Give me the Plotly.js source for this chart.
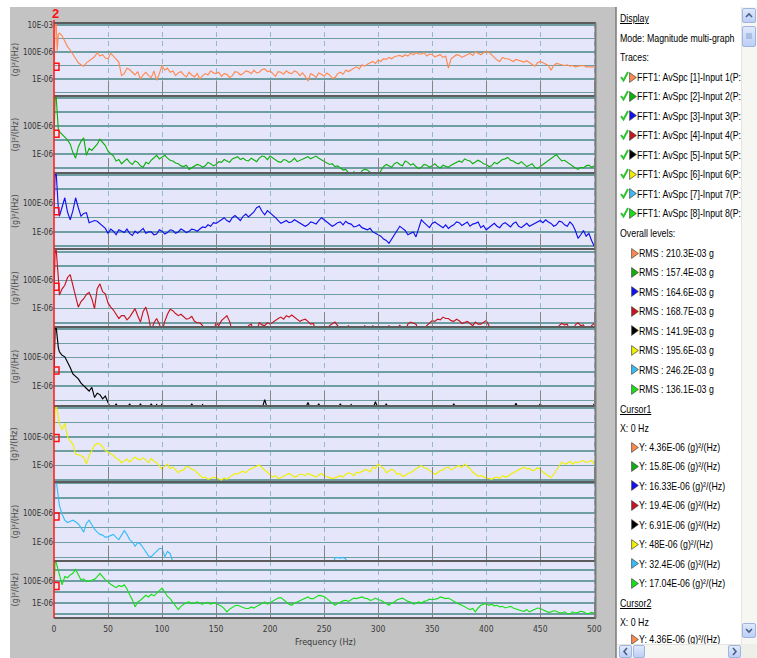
<!DOCTYPE html>
<html><head><meta charset="utf-8">
<script src="https://cdn.plot.ly/plotly-3.0.1.min.js"></script>
<style>
html,body{margin:0;padding:0;background:#fff;overflow:hidden;}
#wrap{position:relative;width:757px;height:658px;}
#chart{position:absolute;left:0;top:0;width:757px;height:658px;}
#panel{position:absolute;left:617px;top:0;width:124px;height:644px;overflow:hidden;
  font-family:"Liberation Sans",Arial,sans-serif;font-size:11px;color:#000;}
#panel .t{position:absolute;height:16px;line-height:16px;white-space:nowrap;transform:scaleX(0.8);transform-origin:0 50%;}
#panel svg{position:absolute;}
.sb{position:absolute;box-sizing:border-box;}
.btn{background:linear-gradient(#e0e9fc,#bccff5);border:1px solid #9fb4df;border-radius:2px;}
.sb svg{position:absolute;left:0;top:0;}
</style></head><body>
<div id="wrap"><div id="chart"></div>
<div id="panel"></div>
<div class="sb" style="left:741px;top:7px;width:16px;height:637px;background:#f6f6f2;border-left:1px solid #e6e6e0"></div>
<div class="sb btn" style="left:742px;top:8px;width:14px;height:15px;"><svg width="12" height="13"><polyline points="3,8 6,5 9,8" fill="none" stroke="#4a5f86" stroke-width="1.6"/></svg></div>
<div class="sb btn" style="left:742px;top:26px;width:14px;height:21px;"><svg width="12" height="19"><line x1="3" y1="7" x2="9" y2="7" stroke="#8aa0cc"/><line x1="3" y1="9" x2="9" y2="9" stroke="#8aa0cc"/><line x1="3" y1="11" x2="9" y2="11" stroke="#8aa0cc"/></svg></div>
<div class="sb btn" style="left:742px;top:623px;width:14px;height:15px;"><svg width="12" height="13"><polyline points="3,5 6,8 9,5" fill="none" stroke="#4a5f86" stroke-width="1.6"/></svg></div>
<div class="sb" style="left:617px;top:644px;width:124px;height:14px;background:#f6f6f2;border-top:1px solid #e6e6e0"></div>
<div class="sb btn" style="left:619px;top:645px;width:13px;height:13px;"><svg width="11" height="11"><polyline points="7,2 4,5.5 7,9" fill="none" stroke="#4a5f86" stroke-width="1.6"/></svg></div>
<div class="sb btn" style="left:633px;top:645px;width:12px;height:13px;"></div>
<div class="sb btn" style="left:728px;top:645px;width:13px;height:13px;"><svg width="11" height="11"><polyline points="4,2 7,5.5 4,9" fill="none" stroke="#4a5f86" stroke-width="1.6"/></svg></div>
<div class="sb" style="left:741px;top:644px;width:16px;height:14px;background:#efefe9"></div>
</div>
<script>
// ---------------- DATA ----------------
const freq = [0,1,2,3,4,5,7.5,10,12.5,15,17.5,20,22.5,25,27.5,30,32.5,35,37.5,40,42.5,45,47.5,50,
  52.5,55,57.5,60,62.5,65,67.5,70,72.5,75,77.5,80,82.5,85,87.5,90,92.5,95,97.5,100,
  102.5,105,107.5,110,112.5,115,117.5,120,122.5,125,127.5,130,132.5,135,137.5,140,142.5,145,147.5,150,
  152.5,155,157.5,160,162.5,165,167.5,170,172.5,175,177.5,180,182.5,185,187.5,190,192.5,195,197.5,200,
  202.5,205,207.5,210,212.5,215,217.5,220,222.5,225,227.5,230,232.5,235,237.5,240,242.5,245,247.5,250,
  252.5,255,257.5,260,262.5,265,267.5,270,272.5,275,277.5,280,282.5,285,287.5,290,292.5,295,297.5,300,
  302.5,305,307.5,310,312.5,315,317.5,320,322.5,325,327.5,330,332.5,335,337.5,340,342.5,345,347.5,350,
  352.5,355,357.5,360,362.5,365,367.5,370,372.5,375,377.5,380,382.5,385,387.5,390,392.5,395,397.5,400,
  402.5,405,407.5,410,412.5,415,417.5,420,422.5,425,427.5,430,432.5,435,437.5,440,442.5,445,447.5,450,
  452.5,455,457.5,460,462.5,465,467.5,470,472.5,475,477.5,480,482.5,485,487.5,490,492.5,495,497.5,500];

// values are log10 of the spectral density in (g)²/(Hz)
const avSpc1 = [-5.36,-2.0,-1.8,-3.9,-2.7,-2.6,-2.8,-3.2,-3.6,-3.85,-4.2,-4.5,-4.8,-4.95,-5.05,-4.8,-4.65,-4.5,-4.35,-4.05,-4.3,-4.2,-4.45,-4.5,
  -4.1,-4.3,-4.5,-4.75,-5.75,-5.6,-5.2,-5.3,-5.5,-5.7,-5.45,-6.0,-5.7,-5.5,-5.75,-5.9,-5.4,-6.1,-5.6,-5.0,
  -5.35,-5.2,-5.5,-5.4,-5.75,-5.55,-5.45,-5.7,-5.85,-5.5,-5.7,-5.85,-5.6,-6.0,-5.75,-5.6,-5.7,-5.4,-5.55,-5.6,
  -5.5,-5.8,-5.6,-5.65,-5.9,-5.75,-5.45,-5.5,-5.7,-5.6,-5.4,-5.45,-5.6,-5.35,-5.55,-5.5,-5.3,-5.25,-5.45,-5.4,
  -5.6,-5.8,-5.45,-5.5,-5.65,-5.4,-5.55,-5.6,-5.4,-5.5,-5.75,-5.55,-5.8,-6.15,-5.6,-5.7,-5.9,-5.55,-5.65,-5.8,
  -5.55,-5.7,-5.95,-5.9,-5.6,-5.5,-5.65,-5.35,-5.45,-5.3,-5.2,-5.1,-5.25,-4.95,-5.05,-4.9,-4.8,-4.7,-4.85,-4.6,
  -4.7,-4.5,-4.55,-4.4,-4.5,-4.35,-4.3,-4.25,-4.35,-4.2,-4.3,-4.1,-4.2,-4.05,-4.15,-4.15,-4.05,-4.3,-4.15,-4.2,
  -4.35,-4.3,-4.2,-4.4,-4.3,-5.2,-4.5,-4.35,-4.2,-4.25,-4.4,-4.3,-4.2,-4.1,-4.25,-4.0,-4.1,-4.2,-4.05,-3.95,
  -4.0,-4.2,-4.35,-4.6,-4.7,-4.4,-4.5,-4.5,-4.6,-4.7,-4.55,-4.6,-4.7,-4.75,-4.65,-4.8,-4.9,-5.05,-4.8,-4.7,
  -4.8,-4.9,-5.0,-5.35,-5.0,-4.85,-4.9,-4.9,-5.0,-4.95,-5.05,-5.0,-5.1,-5.05,-5.0,-5.0,-5.1,-5.1,-5.05,-5.1];
const avSpc2 = [-4.8,-2.1,-1.9,-3.0,-4.25,-4.4,-4.6,-4.8,-5.0,-5.3,-5.9,-6.3,-5.5,-5.1,-4.85,-6.1,-5.6,-5.75,-5.5,-5.3,-4.95,-5.2,-5.4,-5.8,
  -6.0,-6.15,-6.5,-6.4,-6.7,-6.55,-6.35,-6.6,-6.75,-6.5,-6.6,-6.85,-6.95,-6.6,-6.7,-6.45,-6.3,-6.1,-6.35,-6.2,
  -6.1,-6.3,-6.45,-6.5,-6.65,-6.7,-6.85,-6.9,-6.8,-7.1,-7.0,-6.9,-6.75,-6.8,-6.95,-6.85,-6.6,-6.7,-6.85,-6.75,
  -6.55,-6.6,-6.4,-6.5,-6.6,-6.35,-6.25,-6.2,-6.4,-6.3,-6.45,-6.5,-6.3,-6.4,-6.55,-6.3,-6.15,-6.2,-6.4,-6.15,
  -6.3,-6.4,-6.55,-6.6,-6.4,-6.45,-6.6,-6.5,-6.3,-6.55,-6.45,-6.35,-6.25,-6.2,-6.35,-6.25,-6.15,-6.3,-6.4,-6.5,
  -6.6,-6.75,-6.7,-6.9,-6.85,-7.0,-7.15,-7.1,-7.3,-7.6,-7.25,-7.6,-7.6,-7.2,-7.1,-7.15,-7.3,-7.6,-7.6,-7.6,
  -7.2,-6.9,-6.75,-6.85,-6.95,-6.7,-6.6,-6.75,-6.85,-6.5,-6.6,-6.8,-6.7,-6.9,-7.05,-6.95,-6.75,-6.8,-6.95,-6.85,
  -6.7,-6.9,-7.0,-6.8,-6.85,-6.95,-6.8,-6.7,-6.55,-6.5,-6.6,-6.35,-6.45,-6.5,-6.7,-6.6,-6.45,-6.55,-6.7,-6.75,
  -6.9,-6.85,-6.6,-6.7,-6.55,-6.4,-6.35,-6.25,-6.45,-6.5,-6.65,-6.7,-6.55,-6.75,-6.9,-6.8,-6.7,-6.95,-7.05,-6.9,
  -6.75,-6.6,-6.5,-6.3,-6.2,-6.05,-6.3,-6.5,-6.45,-6.6,-6.75,-6.9,-7.0,-7.1,-6.95,-7.0,-6.85,-6.8,-6.95,-6.85];
const avSpc3 = [-4.79,-1.9,-1.85,-3.2,-4.3,-4.9,-4.2,-3.6,-4.6,-5.15,-4.5,-3.6,-4.3,-4.9,-4.7,-4.65,-5.35,-5.3,-5.2,-5.25,-5.4,-5.55,-5.75,-6.1,
  -5.8,-5.95,-6.2,-5.85,-5.95,-6.05,-5.8,-6.1,-6.25,-5.95,-6.1,-5.9,-5.75,-6.1,-6.0,-6.0,-6.2,-6.15,-5.85,-5.95,
  -6.15,-6.05,-5.85,-5.9,-6.1,-6.0,-5.8,-5.9,-6.05,-5.95,-5.8,-5.85,-5.95,-5.8,-5.65,-5.7,-5.5,-5.6,-5.35,-5.4,
  -5.3,-5.15,-5.0,-5.2,-5.3,-5.0,-4.85,-5.05,-5.2,-4.9,-4.75,-4.95,-4.8,-4.6,-4.3,-4.2,-4.55,-4.8,-4.5,-4.65,
  -4.8,-5.0,-5.2,-5.4,-5.3,-5.2,-5.35,-5.3,-5.15,-5.25,-5.4,-5.45,-5.6,-5.5,-5.3,-5.35,-5.45,-5.2,-5.0,-5.15,
  -5.3,-5.4,-5.6,-5.5,-5.35,-5.3,-5.5,-5.25,-5.4,-5.45,-5.65,-5.6,-5.5,-5.7,-5.8,-5.85,-5.75,-6.0,-6.1,-6.2,
  -6.3,-6.5,-6.6,-6.8,-6.5,-6.2,-5.9,-5.6,-5.75,-5.9,-6.2,-6.1,-6.0,-6.35,-5.8,-5.15,-5.35,-5.5,-5.7,-5.4,
  -5.3,-5.45,-5.6,-5.7,-5.5,-5.75,-5.6,-5.5,-5.3,-5.35,-5.55,-5.4,-5.3,-5.6,-5.45,-5.4,-5.3,-5.7,-5.55,-5.85,
  -5.7,-5.6,-5.4,-5.6,-5.7,-5.45,-5.35,-5.5,-5.65,-5.4,-5.3,-5.6,-5.7,-5.55,-5.4,-5.6,-5.5,-5.4,-5.3,-5.2,
  -5.35,-5.15,-5.3,-5.4,-5.6,-5.5,-5.25,-5.3,-5.5,-5.6,-5.3,-5.5,-5.9,-6.45,-6.2,-5.9,-6.3,-6.1,-6.6,-7.0];
const avSpc4 = [-4.71,-2.05,-1.8,-2.6,-3.8,-5.05,-4.6,-4.35,-3.8,-3.6,-4.35,-5.2,-5.9,-5.5,-5.3,-5.0,-4.85,-5.3,-6.0,-4.6,-4.25,-4.8,-4.95,-5.6,
  -5.9,-6.1,-6.4,-6.7,-6.5,-6.5,-6.8,-6.6,-6.3,-6.0,-6.5,-6.95,-6.2,-5.9,-6.6,-7.6,-7.0,-6.7,-7.1,-7.6,
  -6.9,-6.4,-6.05,-6.15,-6.35,-6.5,-6.4,-6.6,-6.75,-6.7,-6.55,-6.9,-7.0,-7.0,-7.2,-7.6,-7.6,-7.3,-7.6,-7.0,
  -7.2,-6.85,-6.7,-6.5,-6.9,-7.6,-7.6,-7.6,-7.6,-7.25,-7.6,-7.2,-7.1,-7.6,-7.6,-7.0,-7.15,-7.2,-7.0,-7.1,
  -6.95,-6.8,-6.7,-6.6,-6.75,-6.5,-6.6,-6.45,-6.6,-6.7,-6.9,-6.8,-6.75,-6.9,-7.1,-7.05,-7.6,-7.6,-7.6,-7.6,
  -7.6,-7.2,-7.05,-6.95,-7.2,-7.6,-7.6,-7.6,-7.2,-7.6,-7.6,-7.6,-7.6,-7.6,-7.2,-7.6,-7.6,-7.2,-7.6,-7.6,
  -7.6,-7.6,-7.6,-7.2,-7.6,-7.6,-7.6,-7.15,-7.6,-7.6,-7.1,-6.95,-7.0,-7.1,-7.6,-7.6,-7.6,-7.2,-7.0,-6.85,
  -6.9,-6.75,-6.8,-6.6,-6.7,-6.7,-6.85,-6.9,-6.75,-6.85,-7.05,-7.0,-6.9,-7.05,-7.2,-6.95,-7.1,-7.1,-7.0,-6.85,
  -7.2,-7.6,-7.6,-7.6,-7.6,-7.6,-7.6,-7.6,-7.6,-7.25,-7.6,-7.6,-7.6,-7.6,-7.6,-7.6,-7.6,-7.25,-7.6,-7.6,
  -7.6,-7.6,-7.6,-7.6,-7.6,-7.6,-7.2,-7.05,-7.15,-7.1,-7.6,-7.6,-7.15,-7.0,-7.2,-7.15,-7.6,-7.6,-7.2,-7.05];
const avSpc5 = [-5.16,-2.0,-1.85,-2.95,-3.3,-3.6,-3.85,-3.95,-4.3,-4.7,-5.15,-5.3,-5.5,-5.8,-6.0,-6.2,-6.35,-6.1,-6.8,-6.5,-6.6,-6.9,-6.7,-7.15,
  -7.6,-7.6,-7.25,-7.6,-7.6,-7.6,-7.6,-7.25,-7.6,-7.6,-7.6,-7.25,-7.6,-7.6,-7.6,-7.25,-7.6,-7.3,-7.6,-7.25,
  -7.6,-7.6,-7.6,-7.6,-7.6,-7.6,-7.6,-7.6,-7.6,-7.6,-7.25,-7.6,-7.6,-7.6,-7.3,-7.6,-7.6,-7.6,-7.6,-7.6,
  -7.6,-7.6,-7.6,-7.6,-7.6,-7.6,-7.6,-7.6,-7.6,-7.6,-7.6,-7.6,-7.6,-7.6,-7.6,-7.6,-7.6,-6.95,-7.6,-7.6,
  -7.6,-7.6,-7.6,-7.6,-7.6,-7.6,-7.6,-7.6,-7.6,-7.6,-7.6,-7.6,-7.6,-7.15,-7.6,-7.6,-7.6,-7.25,-7.6,-7.6,
  -7.6,-7.6,-7.6,-7.6,-7.6,-7.25,-7.6,-7.6,-7.6,-7.3,-7.6,-7.6,-7.6,-7.6,-7.6,-7.6,-7.6,-7.6,-7.1,-7.6,
  -7.6,-7.6,-7.25,-7.6,-7.6,-7.6,-7.6,-7.6,-7.6,-7.6,-7.6,-7.6,-7.6,-7.6,-7.6,-7.6,-7.6,-7.6,-7.6,-7.6,
  -7.6,-7.6,-7.6,-7.6,-7.6,-7.6,-7.6,-7.25,-7.6,-7.6,-7.6,-7.6,-7.6,-7.6,-7.6,-7.6,-7.6,-7.6,-7.6,-7.6,
  -7.6,-7.6,-7.6,-7.6,-7.6,-7.6,-7.6,-7.6,-7.6,-7.6,-7.2,-7.6,-7.6,-7.6,-7.6,-7.6,-7.6,-7.6,-7.6,-7.25,
  -7.6,-7.6,-7.6,-7.6,-7.6,-7.6,-7.6,-7.6,-7.6,-7.6,-7.6,-7.6,-7.6,-7.6,-7.6,-7.6,-7.6,-7.6,-7.6,-7.25];
const avSpc6 = [-4.32,-1.8,-1.75,-2.3,-2.65,-3.1,-3.5,-3.05,-4.0,-4.3,-4.5,-5.2,-5.25,-5.3,-5.4,-5.9,-5.3,-4.95,-4.6,-4.45,-4.5,-4.7,-4.95,-5.05,
  -5.15,-5.3,-5.5,-5.6,-5.8,-5.7,-5.55,-5.75,-5.6,-5.4,-5.55,-5.6,-5.45,-5.65,-5.8,-5.5,-5.7,-5.8,-6.0,-6.25,
  -6.05,-5.9,-6.2,-6.1,-6.3,-6.5,-6.35,-6.3,-6.05,-6.1,-6.25,-6.3,-6.5,-6.7,-6.85,-6.8,-6.95,-6.9,-6.8,-6.85,
  -6.95,-7.0,-6.85,-6.95,-6.8,-6.7,-6.55,-6.6,-6.45,-6.4,-6.5,-6.3,-6.2,-6.1,-6.0,-5.95,-6.15,-6.3,-6.5,-6.6,
  -6.8,-6.7,-6.9,-6.85,-6.75,-6.7,-6.55,-6.65,-6.8,-6.75,-6.6,-6.6,-6.7,-6.55,-6.65,-6.7,-6.8,-6.65,-6.55,-6.7,
  -6.75,-6.8,-6.9,-6.85,-6.75,-6.7,-6.8,-6.6,-6.5,-6.55,-6.7,-6.45,-6.5,-6.4,-6.3,-6.3,-6.45,-6.1,-6.2,-5.9,
  -6.05,-6.2,-6.5,-6.4,-6.25,-6.35,-6.6,-6.55,-6.75,-6.7,-6.55,-6.5,-6.35,-6.2,-6.1,-6.0,-6.15,-6.2,-6.35,-6.45,
  -6.6,-6.5,-6.35,-6.3,-6.15,-6.1,-6.3,-6.2,-6.05,-6.0,-6.15,-5.9,-6.05,-6.2,-6.45,-6.6,-6.75,-6.7,-6.8,-6.85,
  -6.9,-6.95,-6.85,-6.8,-6.9,-6.7,-6.8,-6.75,-6.6,-6.5,-6.4,-6.3,-6.2,-6.1,-6.25,-6.2,-6.35,-6.3,-6.15,-6.25,
  -6.45,-6.6,-6.75,-6.85,-6.6,-6.3,-6.0,-5.75,-5.9,-5.85,-5.7,-5.9,-5.75,-5.8,-5.7,-5.65,-5.8,-5.75,-5.65,-5.9];
const avSpc7 = [-4.49,-1.9,-1.8,-2.5,-3.0,-3.5,-4.1,-4.5,-4.65,-4.55,-4.5,-4.6,-4.75,-5.0,-5.3,-4.7,-4.5,-4.8,-5.1,-5.3,-5.45,-5.5,-5.65,-5.6,
  -5.5,-5.45,-5.65,-5.8,-5.5,-5.2,-5.45,-5.8,-5.95,-6.25,-6.0,-6.1,-6.35,-6.6,-6.9,-6.95,-6.75,-6.6,-6.4,-6.4,
  -6.95,-6.6,-6.75,-7.3,-7.6,-7.6,-7.6,-7.6,-7.6,-7.6,-7.6,-7.6,-7.6,-7.6,-7.6,-7.6,-7.6,-7.6,-7.6,-7.6,
  -7.6,-7.6,-7.6,-7.6,-7.6,-7.6,-7.6,-7.6,-7.6,-7.6,-7.6,-7.6,-7.6,-7.6,-7.6,-7.6,-7.6,-7.6,-7.6,-7.6,
  -7.6,-7.6,-7.6,-7.6,-7.6,-7.6,-7.6,-7.6,-7.6,-7.6,-7.6,-7.6,-7.6,-7.6,-7.6,-7.6,-7.6,-7.6,-7.6,-7.6,
  -7.6,-7.6,-7.6,-7.05,-7.0,-7.05,-7.0,-7.1,-7.6,-7.6,-7.6,-7.6,-7.6,-7.6,-7.6,-7.6,-7.6,-7.6,-7.6,-7.6,
  -7.6,-7.6,-7.6,-7.6,-7.6,-7.6,-7.6,-7.6,-7.6,-7.6,-7.6,-7.6,-7.6,-7.6,-7.6,-7.6,-7.6,-7.6,-7.6,-7.6,
  -7.6,-7.6,-7.6,-7.6,-7.6,-7.6,-7.6,-7.6,-7.6,-7.6,-7.6,-7.6,-7.6,-7.6,-7.6,-7.6,-7.6,-7.6,-7.6,-7.6,
  -7.6,-7.6,-7.6,-7.6,-7.6,-7.6,-7.6,-7.6,-7.6,-7.6,-7.6,-7.6,-7.6,-7.6,-7.6,-7.6,-7.6,-7.6,-7.6,-7.6,
  -7.6,-7.6,-7.6,-7.6,-7.6,-7.6,-7.6,-7.6,-7.6,-7.6,-7.6,-7.6,-7.6,-7.6,-7.6,-7.6,-7.6,-7.6,-7.6,-7.6];
const avSpc8 = [-4.77,-2.25,-2.3,-2.7,-3.0,-3.6,-4.35,-3.6,-3.7,-3.45,-3.3,-2.95,-3.4,-3.9,-3.8,-4.05,-4.0,-3.95,-3.85,-3.6,-3.3,-3.6,-3.9,-4.05,
  -4.3,-4.45,-4.6,-4.4,-4.5,-4.35,-4.7,-5.25,-5.7,-6.35,-5.9,-5.75,-5.5,-5.3,-5.45,-5.2,-5.35,-5.1,-4.9,-4.65,
  -5.0,-5.4,-5.6,-5.9,-6.2,-6.6,-6.3,-6.1,-5.95,-5.9,-6.05,-6.0,-5.9,-6.05,-6.1,-6.0,-5.95,-6.1,-6.0,-6.05,
  -6.15,-6.3,-6.5,-6.8,-6.55,-6.4,-6.25,-6.2,-6.3,-6.35,-6.5,-6.5,-6.35,-6.45,-6.3,-6.2,-6.0,-5.9,-6.1,-5.95,
  -5.85,-5.7,-5.55,-5.5,-5.7,-5.9,-6.1,-6.2,-6.0,-5.9,-5.8,-5.7,-5.55,-5.45,-5.6,-5.6,-5.45,-5.3,-5.35,-5.4,
  -5.6,-5.8,-6.0,-6.2,-6.05,-5.9,-5.8,-5.75,-5.85,-5.7,-5.55,-5.6,-5.5,-5.45,-5.55,-5.6,-5.75,-5.7,-5.55,-5.7,
  -5.75,-5.9,-6.1,-6.2,-6.0,-5.9,-5.7,-5.6,-5.55,-5.7,-5.85,-5.9,-6.1,-6.05,-5.9,-6.0,-5.85,-5.8,-5.65,-5.7,
  -5.65,-5.6,-5.45,-5.5,-5.6,-5.55,-5.7,-5.8,-5.95,-6.1,-6.2,-6.35,-6.45,-6.6,-6.5,-6.8,-6.45,-6.2,-6.1,-6.05,
  -6.2,-6.1,-6.25,-6.2,-6.35,-6.3,-6.45,-6.4,-6.3,-6.45,-6.55,-6.6,-6.7,-6.75,-6.6,-6.8,-6.7,-6.6,-6.45,-6.5,
  -6.6,-6.7,-6.85,-6.8,-6.7,-6.75,-6.9,-6.9,-6.8,-6.95,-7.0,-6.8,-6.9,-6.85,-6.75,-6.8,-6.95,-6.95,-6.85,-6.9];

const traceLabels = ['FFT1: AvSpc [1]-Input 1(P:','FFT1: AvSpc [2]-Input 2(P:','FFT1: AvSpc [3]-Input 3(P:','FFT1: AvSpc [4]-Input 4(P:',
  'FFT1: AvSpc [5]-Input 5(P:','FFT1: AvSpc [6]-Input 6(P:','FFT1: AvSpc [7]-Input 7(P:','FFT1: AvSpc [8]-Input 8(P:'];
const rmsLevels = ['210.3E-03','157.4E-03','164.6E-03','168.7E-03','141.9E-03','195.6E-03','246.2E-03','136.1E-03'];
const cursorY = [4.36e-6, 15.8e-6, 16.33e-6, 19.4e-6, 6.91e-6, 48e-6, 32.4e-6, 17.04e-6];
const cursorText = ['4.36E-06','15.8E-06','16.33E-06','19.4E-06','6.91E-06','48E-06','32.4E-06','17.04E-06'];
const cursor2Text = ['4.36E-06'];
const xTickVals = [0,50,100,150,200,250,300,350,400,450,500];
const yTickVals = [1e-2,1e-3,1e-4,1e-5,1e-6,1e-7];
const yTickTextTop = ['10E-03','','100E-06','','1E-06',''];
const yTickTextOther = ['','','100E-06','','1E-06',''];

// ---------------- STYLE / LAYOUT ----------------
const series = [avSpc1,avSpc2,avSpc3,avSpc4,avSpc5,avSpc6,avSpc7,avSpc8];
const colors = ['#ff8a50','#10b010','#1010f0','#c8141e','#000000','#f0f000','#38bdf8','#18e018'];
const W=757,H=658,L=54,R=161,T=23,B=40;
const PW=W-L-R, PH=H-T-B;
const px2x = p => (p-L)/PW;
const py2y = p => (H-B-p)/PH;
const sepPx = [23,96,173,249,327,406,482,561,618];
const yRanges = [[-7.26,-1.85],[-7.36,-1.86],[-7.2,-1.86],[-7.3,-1.79],[-7.4,-1.86],[-7.14,-1.86],[-7.24,-1.93],[-7.36,-2.18]];
const narrow = '"Liberation Sans Narrow","DejaVu Sans Condensed","Liberation Sans",sans-serif';

const data = [];
const layout = {
  width:W, height:H, margin:{l:L,r:R,t:T,b:B,pad:0},
  paper_bgcolor:'#c3c3c3', plot_bgcolor:'#e6e6fa',
  showlegend:false, shapes:[], annotations:[], font:{family:narrow}
};
for(let i=0;i<8;i++){
  const n = i===0?'':String(i+1);
  data.push({x:freq, y:series[i].map(e=>Math.pow(10,e)), xaxis:'x'+n, yaxis:'y'+n,
    type:'scatter', mode:'lines', line:{color:colors[i], width:1.15}, hoverinfo:'skip'});
  layout['xaxis'+n] = {domain:[0,1], anchor:'y'+n, range:[0,501.6], tickvals:xTickVals,
    ticks:'inside', ticklen:15, tickwidth:1, tickcolor:'#858585',
    showticklabels:i===7, ticklabelstandoff:4, tickfont:{family:narrow,size:8.5,color:'#3a3a3a'},
    showgrid:true, gridcolor:'#94b9cb', gridwidth:1, griddash:'5px,4px',
    zeroline:false, showline:false, fixedrange:true};
  layout['yaxis'+n] = {domain:[py2y(sepPx[i+1]), py2y(sepPx[i])], anchor:'x'+n, type:'log',
    range:yRanges[i], tickvals:yTickVals, ticktext:i===0?yTickTextTop:yTickTextOther,
    ticks:'', tickfont:{family:narrow,size:8,color:'#333'},
    showgrid:true, gridcolor:'#6f9ea2', gridwidth:1.5, zeroline:false, showline:false, fixedrange:true};
  layout.annotations.push({xref:'paper',yref:'paper',x:px2x(15),y:py2y((sepPx[i]+sepPx[i+1])/2),
    text:'(g)²/(Hz)', textangle:-90, showarrow:false, xanchor:'center', yanchor:'middle',
    font:{family:'DejaVu Sans',size:8,color:'#4a4a4a'}});
  layout.shapes.push({type:'rect', xref:'x'+n, yref:'y'+n, xsizemode:'pixel', xanchor:0, x0:-3, x1:5,
    ysizemode:'pixel', yanchor:cursorY[i], y0:-7, y1:7, line:{color:'#ff1010',width:1.5}, layer:'above'});
}
const rectPx = (x0,y0,x1,y1,color)=>({type:'rect',xref:'paper',yref:'paper',x0:px2x(x0),x1:px2x(x1),y0:py2y(y1),y1:py2y(y0),
  fillcolor:color,line:{width:0},layer:'below'});
layout.shapes.push(rectPx(0,0,757,7,'#ffffff'));
layout.shapes.push(rectPx(0,0,10,658,'#ffffff'));
layout.shapes.push(rectPx(616,0,757,658,'#ffffff'));
const linePx = (x0,y0,x1,y1,color,w)=>({type:'line',xref:'paper',yref:'paper',x0:px2x(x0),x1:px2x(x1),y0:py2y(y0),y1:py2y(y1),
  line:{color:color,width:w},layer:'above'});
layout.shapes.push(linePx(616,7,616,658,'#7a7a7a',1.5));
sepPx.forEach(p=>layout.shapes.push(linePx(54,p,596,p,'#5c5c5c',2)));
layout.shapes.push(linePx(595.5,23,595.5,618,'#7c7c7c',2));
layout.shapes.push(linePx(54,20,54,618,'#ff1a1a',1.5));

layout.annotations.push({xref:'paper',yref:'paper',x:px2x(55),y:py2y(13),text:'<b>2</b>',showarrow:false,
  xanchor:'center',yanchor:'middle',font:{family:'Liberation Sans',size:13,color:'#ff1010'}});
layout.annotations.push({xref:'paper',yref:'paper',x:px2x(325),y:py2y(642),text:'Frequency (Hz)',showarrow:false,
  xanchor:'center',yanchor:'middle',font:{family:narrow,size:9,color:'#3a3a3a'}});

Plotly.newPlot('chart', data, layout, {staticPlot:true, displayModeBar:false});

// ---------------- RIGHT PANEL (real text) ----------------
const panel = document.getElementById('panel');
const PX0 = 617;
function txt(html, x, y, underline){
  const d = document.createElement('div');
  d.className = 't';
  d.style.left = (x-PX0)+'px'; d.style.top = (y-8)+'px';
  if(underline) d.style.textDecoration = 'underline';
  d.innerHTML = html; panel.appendChild(d);
}
function triangle(color, x, y){
  const s = document.createElementNS('http://www.w3.org/2000/svg','svg');
  s.setAttribute('width','8'); s.setAttribute('height','11');
  s.style.left = (x-PX0)+'px'; s.style.top = (y-5.5)+'px';
  s.innerHTML = '<polygon points="0.6,0.6 7.4,5.5 0.6,10.4" fill="'+color+'" stroke="#444" stroke-width="0.7"/>';
  panel.appendChild(s);
}
function check(x, y){
  const s = document.createElementNS('http://www.w3.org/2000/svg','svg');
  s.setAttribute('width','9'); s.setAttribute('height','11');
  s.style.left = (x-PX0)+'px'; s.style.top = (y-6)+'px';
  s.innerHTML = '<polyline points="1,6 3.5,9.5 8,1" fill="none" stroke="#2ec42e" stroke-width="2"/>';
  panel.appendChild(s);
}
const step = 19.43;
txt('Display',620,18,true);
txt('Mode: Magnitude multi-graph',620,38);
txt('Traces:',620,57);
for(let i=0;i<8;i++){ const y=77+i*step; check(620,y); triangle(colors[i],629,y); txt(traceLabels[i],637,y); }
txt('Overall levels:',620,233);
for(let i=0;i<8;i++){ const y=253+i*step; triangle(colors[i],631,y); txt('RMS : '+rmsLevels[i]+' g',639,y); }
txt('Cursor1',620,409,true);
txt('X: 0 Hz',620,428);
for(let i=0;i<8;i++){ const y=447+i*step; triangle(colors[i],631,y); txt('Y: '+cursorText[i]+' (g)²/(Hz)',639,y); }
txt('Cursor2',620,603,true);
txt('X: 0 Hz',620,622);
triangle(colors[0],631,639); txt('Y: '+cursor2Text[0]+' (g)²/(Hz)',639,639);
</script>
</body></html>
